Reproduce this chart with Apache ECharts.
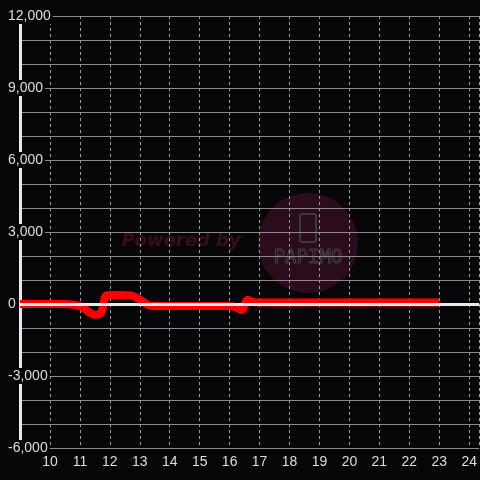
<!DOCTYPE html>
<html>
<head>
<meta charset="utf-8">
<script src="https://cdn.jsdelivr.net/npm/echarts@6/dist/echarts.min.js"></script>
<style>
  html, body { margin: 0; padding: 0; background: #060609; }
  #chart { width: 480px; height: 480px; }
</style>
</head>
<body>
<div id="chart"></div>
<script>
  // values
  let xValues = [9, 10, 10.4, 11, 11.3, 11.5, 11.7, 11.9, 12.2, 12.7, 13, 13.4, 14, 15, 16, 16.2, 16.4, 16.6, 16.8, 17, 18, 19, 20, 21, 22, 23];
  let yValues = [0, 0, 0, -90, -330, -450, -380, 370, 380, 360, 180, -80, -80, -80, -80, -130, -250, 170, 80, 60, 60, 60, 60, 60, 60, 60];

  let yMin = -6000, yMax = 12000, yStep = 3000;
  let xMin = 9, xMax = 24.3333, xStep = 1;

  let points = [];
  for (let i = 0; i < xValues.length; i++) {
    points.push([xValues[i], yValues[i]]);
  }

  let myChart = echarts.init(document.getElementById('chart'));
  myChart.setOption({
    backgroundColor: '#060609',
    animation: false,
    grid: {
      left: 20,
      right: 0,
      top: 16,
      bottom: 32
    },
    graphic: [
      {
        type: 'circle',
        z: -10,
        shape: {cx: 308, cy: 243, r: 50},
        style: {fill: '#2a0c1c'}
      },
      {
        type: 'rect',
        z: -9,
        shape: {x: 300, y: 214, width: 16, height: 28, r: 2},
        style: {fill: 'none', stroke: '#464646', lineWidth: 1.5}
      },
      {
        type: 'text',
        z: -9,
        style: {
          text: 'PAPIMO',
          x: 308, y: 258,
          align: 'center', verticalAlign: 'middle',
          font: '19px "DejaVu Sans Mono"',
          fill: 'none',
          stroke: '#464646',
          lineWidth: 0.9
        }
      },
      {
        type: 'text',
        z: -9,
        style: {
          text: 'Powered by',
          x: 181, y: 241,
          align: 'center', verticalAlign: 'middle',
          font: 'italic bold 18px "DejaVu Sans"',
          fill: '#3a0c1e'
        }
      }
    ],
    xAxis: {
      type: 'value',
      min: xMin,
      max: xMax,
      interval: xStep,
      axisLine: {show: false, onZero: false},
      axisTick: {show: false},
      axisLabel: {
        color: '#dddddd',
        fontSize: 14,
        fontFamily: 'Liberation Sans',
        margin: 7,
        showMinLabel: false,
        showMaxLabel: false
      },
      splitLine: {
        show: true,
        lineStyle: {color: '#9a9a9a', width: 1, type: [3, 3]}
      }
    },
    yAxis: {
      type: 'value',
      min: yMin,
      max: yMax,
      interval: yStep,
      axisLine: {show: true, lineStyle: {color: '#e8e8e8', width: 3}},
      axisTick: {show: false},
      minorTick: {show: false, splitNumber: 3},
      axisLabel: {
        color: '#dddddd',
        fontSize: 14,
        fontFamily: 'Liberation Sans',
        align: 'left',
        margin: 13,
        backgroundColor: '#060609',
        padding: [1, 2, 1, 1],
        formatter: function (v) {
          return v.toLocaleString('en-US');
        }
      },
      splitLine: {
        show: true,
        lineStyle: {color: '#8a8a8a', width: 1}
      },
      minorSplitLine: {
        show: true,
        lineStyle: {color: '#8a8a8a', width: 1}
      }
    },
    series: [
      {
        type: 'line',
        z: 1,
        data: [],
        markLine: {
          silent: true,
          symbol: 'none',
          label: {show: false},
          lineStyle: {color: '#e8e8e8', width: 3, type: 'solid'},
          data: [{yAxis: 0}]
        }
      },
      {
        type: 'line',
        z: 3,
        data: points,
        smooth: 0.35,
        showSymbol: false,
        lineStyle: {color: '#ff0000', width: 8, cap: 'butt'}
      }
    ]
  });
</script>
</body>
</html>
